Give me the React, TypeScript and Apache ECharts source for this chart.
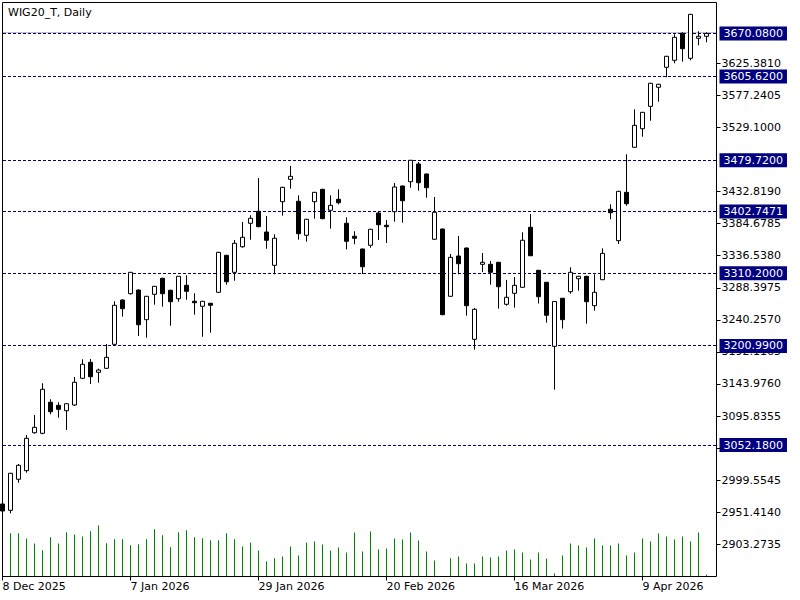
import React, { useEffect, useRef } from "react";
import * as echarts from "echarts";

const dates = [
  "8 Dec 2025", "9 Dec 2025", "10 Dec 2025", "11 Dec 2025", "12 Dec 2025",
  "15 Dec 2025", "16 Dec 2025", "17 Dec 2025", "18 Dec 2025", "19 Dec 2025",
  "22 Dec 2025", "23 Dec 2025", "29 Dec 2025", "30 Dec 2025", "2 Jan 2026",
  "5 Jan 2026", "7 Jan 2026", "8 Jan 2026", "9 Jan 2026", "12 Jan 2026",
  "13 Jan 2026", "14 Jan 2026", "15 Jan 2026", "16 Jan 2026", "19 Jan 2026",
  "20 Jan 2026", "21 Jan 2026", "22 Jan 2026", "23 Jan 2026", "26 Jan 2026",
  "27 Jan 2026", "28 Jan 2026", "29 Jan 2026", "30 Jan 2026", "2 Feb 2026",
  "3 Feb 2026", "4 Feb 2026", "5 Feb 2026", "6 Feb 2026", "9 Feb 2026",
  "10 Feb 2026", "11 Feb 2026", "12 Feb 2026", "13 Feb 2026", "16 Feb 2026",
  "17 Feb 2026", "18 Feb 2026", "19 Feb 2026", "20 Feb 2026", "23 Feb 2026",
  "24 Feb 2026", "25 Feb 2026", "26 Feb 2026", "27 Feb 2026", "2 Mar 2026",
  "3 Mar 2026", "4 Mar 2026", "5 Mar 2026", "6 Mar 2026", "9 Mar 2026",
  "10 Mar 2026", "11 Mar 2026", "12 Mar 2026", "13 Mar 2026", "16 Mar 2026",
  "17 Mar 2026", "18 Mar 2026", "19 Mar 2026", "20 Mar 2026", "23 Mar 2026",
  "24 Mar 2026", "25 Mar 2026", "26 Mar 2026", "27 Mar 2026", "30 Mar 2026",
  "31 Mar 2026", "1 Apr 2026", "2 Apr 2026", "7 Apr 2026", "8 Apr 2026",
  "9 Apr 2026", "10 Apr 2026", "13 Apr 2026", "14 Apr 2026", "15 Apr 2026",
  "16 Apr 2026", "17 Apr 2026", "20 Apr 2026", "21 Apr 2026",
];

const labelDates = ["8 Dec 2025", "7 Jan 2026", "29 Jan 2026", "20 Feb 2026", "16 Mar 2026", "9 Apr 2026"];

const opens = [
  2963.8, 2954.3, 3000.9, 3013.8, 3070.8, 3069.9, 3116.5, 3111.9, 3103.8, 3112.4,
  3152.5, 3176.5, 3161.5, 3167.5, 3203.5, 3270.0, 3279.5, 3285.0, 3240.5, 3278.6,
  3302.6, 3284.6, 3272.0, 3292.1, 3268.1, 3260.6, 3265.1, 3281.6, 3337.1, 3311.6,
  3350.0, 3385.2, 3403.2, 3372.1, 3322.1, 3417.6, 3451.2, 3418.2, 3367.2, 3417.6,
  3436.2, 3404.7, 3421.2, 3385.2, 3365.7, 3346.6, 3352.2, 3400.6, 3382.2, 3402.6,
  3441.2, 3447.6, 3474.2, 3459.2, 3361.2, 3376.6, 3275.6, 3336.1, 3348.1, 3211.0,
  3323.6, 3323.6, 3326.6, 3263.6, 3280.1, 3289.1, 3379.2, 3314.6, 3296.6, 3200.5,
  3272.6, 3282.5, 3302.0, 3305.6, 3261.5, 3300.5, 3406.2, 3359.1, 3431.7, 3499.3,
  3527.2, 3560.8, 3589.4, 3619.4, 3629.9, 3670.4, 3632.9, 3662.9, 3665.9,
];
const closes = [
  2953.3, 3009.9, 3021.9, 3062.4, 3078.9, 3136.0, 3102.3, 3105.9, 3114.3, 3146.5,
  3173.5, 3154.9, 3164.9, 3184.0, 3262.1, 3257.0, 3311.6, 3232.9, 3275.6, 3290.6,
  3279.5, 3267.5, 3305.6, 3283.1, 3266.0, 3268.1, 3262.1, 3341.6, 3297.5, 3355.2,
  3364.2, 3392.7, 3380.1, 3359.7, 3362.7, 3439.2, 3455.7, 3369.6, 3391.2, 3431.7,
  3392.1, 3412.2, 3416.1, 3358.2, 3362.7, 3320.0, 3376.2, 3383.1, 3380.1, 3439.7,
  3419.1, 3479.8, 3446.1, 3438.6, 3401.7, 3248.0, 3334.1, 3324.5, 3261.5, 3256.1,
  3326.6, 3311.6, 3290.0, 3274.1, 3292.1, 3359.7, 3336.5, 3275.0, 3247.1, 3267.8,
  3240.5, 3311.6, 3305.6, 3267.5, 3281.6, 3340.1, 3401.1, 3433.2, 3414.6, 3532.3,
  3551.8, 3595.4, 3593.9, 3635.9, 3664.4, 3647.3, 3698.9, 3665.9, 3670.1,
];
const lows = [
  2950.3, 2949.8, 2995.7, 3010.8, 3069.3, 3068.5, 3098.4, 3093.3, 3074.9, 3110.9,
  3151.5, 3143.9, 3145.9, 3166.5, 3202.0, 3245.0, 3278.0, 3216.0, 3213.4, 3263.0,
  3260.0, 3231.4, 3267.5, 3270.5, 3248.0, 3214.9, 3220.9, 3280.8, 3293.0, 3299.0,
  3348.5, 3360.6, 3379.4, 3347.0, 3308.6, 3396.6, 3437.1, 3360.6, 3357.6, 3392.1,
  3391.5, 3377.1, 3413.7, 3346.1, 3353.7, 3309.1, 3348.5, 3360.1, 3355.6, 3387.6,
  3386.1, 3438.6, 3434.1, 3423.6, 3360.5, 3247.3, 3275.0, 3308.6, 3246.5, 3195.4,
  3312.1, 3293.0, 3257.0, 3261.5, 3258.5, 3288.5, 3335.9, 3264.8, 3236.0, 3135.4,
  3227.2, 3279.5, 3284.0, 3234.5, 3254.0, 3299.9, 3391.2, 3354.1, 3411.6, 3498.7,
  3515.2, 3539.2, 3567.7, 3604.4, 3625.4, 3627.8, 3629.9, 3652.4, 3656.9,
];
const highs = [
  2966.8, 3010.4, 3023.8, 3067.4, 3097.4, 3145.0, 3121.0, 3116.5, 3115.0, 3154.4,
  3181.0, 3181.5, 3166.9, 3204.0, 3268.1, 3271.0, 3312.0, 3286.0, 3276.0, 3291.0,
  3303.5, 3285.5, 3306.0, 3307.1, 3280.1, 3268.6, 3265.6, 3342.3, 3337.8, 3360.1,
  3387.1, 3397.2, 3453.2, 3396.1, 3368.7, 3440.0, 3471.2, 3427.2, 3391.8, 3432.3,
  3436.8, 3427.2, 3436.2, 3394.2, 3373.2, 3347.2, 3376.8, 3402.1, 3390.1, 3445.7,
  3441.8, 3480.3, 3477.2, 3459.8, 3424.7, 3377.2, 3339.1, 3366.1, 3348.7, 3258.0,
  3340.6, 3328.6, 3327.2, 3300.1, 3304.6, 3371.7, 3399.1, 3315.2, 3297.2, 3268.3,
  3273.2, 3319.1, 3306.2, 3306.2, 3308.6, 3347.6, 3413.7, 3433.8, 3488.8, 3556.3,
  3552.4, 3596.0, 3594.5, 3636.5, 3668.9, 3671.9, 3699.5, 3673.4, 3671.9,
];
const volumes = [
  4000, 4330, 4330, 3800, 3300, 2630, 3930, 3300, 4430, 4200,
  4000, 4530, 5100, 3330, 3730, 3730, 3130, 3230, 3730, 4730,
  4130, 2930, 4430, 4630, 3930, 3830, 3630, 3630, 4330, 3730,
  3000, 3400, 2600, 1500, 1830, 2000, 3000, 2100, 3400, 3500,
  3200, 2600, 2900, 2400, 4400, 2500, 4500, 2700, 2800, 3800,
  3700, 4400, 3600, 2500, 1600, 0, 1830, 2000, 1300, 1300,
  2000, 1900, 2000, 2600, 2700, 2400, 1700, 2400, 1800, 300,
  2100, 3300, 3100, 2900, 3800, 3100, 3100, 3300, 2100, 2400,
  3800, 3500, 4300, 4000, 3700, 4000, 3500, 4400, 200,
];

const yTicks = [
  2903.2735, 2951.414, 2999.5545, 3047.695, 3095.8355, 3143.976, 3192.1165,
  3240.257, 3288.3975, 3336.538, 3384.6785, 3432.819, 3529.1,
  3577.2405, 3625.381,
];
const levels = [3670.08, 3605.62, 3479.72, 3402.7471, 3310.2, 3200.99, 3052.18];

const FONT = "DejaVu Sans";

export default function App() {
  const ref = useRef<HTMLDivElement>(null);
  useEffect(() => {
    if (!ref.current) return;
    const chart = echarts.init(ref.current, undefined, { renderer: "svg" });
    const categories = [...dates, ""];
    const candles = dates.map((_, i) => [opens[i], closes[i], lows[i], highs[i]]);
    const showLabel = (i: number) => labelDates.includes(categories[i]);
    const lastClose = closes[closes.length - 1];
    const markData: any[] = levels.map((v) => ({
      yAxis: v,
      lineStyle: { color: "transparent", width: 0 },
      label: {
        show: true,
        position: "end",
        distance: 5,
        formatter: v.toFixed(4),
        color: "#ffffff",
        backgroundColor: "#000080",
        padding: [1, 4, 1, 4],
        fontFamily: FONT,
        fontSize: 11,
        lineHeight: 12,
      },
    }));
    const baseGraphics: any[] = [
      {
        id: "frame",
        type: "rect",
        silent: true,
        z: 100,
        shape: { x: 2.5, y: 2.5, width: 714, height: 574 },
        style: { fill: "none", stroke: "#000000", lineWidth: 1 },
      },
      {
        id: "title",
        type: "text",
        left: 8,
        top: 7,
        z: 100,
        style: { text: "WIG20_T, Daily", font: `11px "${FONT}"`, fill: "#000000" },
      },
    ];
    chart.setOption({
      animation: false,
      backgroundColor: "#ffffff",
      textStyle: { fontFamily: FONT },
      grid: {
        left: 2.5,
        top: 2.5,
        width: 712,
        height: 574,
        containLabel: false,
        outerBoundsMode: "none",
      },
      xAxis: {
        type: "category",
        data: categories,
        boundaryGap: false,
        axisLine: { show: true, lineStyle: { color: "#000000", width: 1 } },
        axisTick: {
          show: true,
          length: 4,
          interval: (i: number) => showLabel(i),
          lineStyle: { color: "#000000" },
        },
        axisLabel: {
          interval: (i: number) => showLabel(i),
          align: "left",
          color: "#000000",
          fontFamily: FONT,
          fontSize: 11,
          margin: 4,
        },
        splitLine: { show: false },
      },
      yAxis: [
        {
          type: "value",
          position: "right",
          offset: 2,
          min: 2854.94,
          max: 3716.66,
          axisLine: { show: false },
          axisTick: {
            show: true,
            length: 4,
            customValues: yTicks,
            lineStyle: { color: "#000000" },
          },
          axisLabel: {
            customValues: yTicks,
            formatter: (v: number) => v.toFixed(4),
            color: "#000000",
            fontFamily: FONT,
            fontSize: 11,
            margin: 5,
          },
          splitLine: { show: false },
        },
        { type: "value", min: 0, max: 57400, show: false },
      ],
      series: [
        {
          type: "bar",
          data: volumes,
          yAxisIndex: 1,
          barWidth: 1,
          itemStyle: { color: "#008000" },
          silent: true,
        },
        {
          type: "candlestick",
          data: candles,
          barWidth: 4,
          silent: true,
          z: 3,
          itemStyle: {
            color: "#ffffff",
            color0: "#000000",
            borderColor: "#000000",
            borderColor0: "#000000",
            borderWidth: 1,
          },
          markLine: {
            silent: true,
            symbol: ["none", "none"],
            animation: false,
            z: 10,
            data: markData,
          },
        },
      ],
      graphic: baseGraphics,
    });

    // crisp horizontal level lines, positioned through the y scale
    const crisp = (v: number) => {
      const p = chart.convertToPixel({ yAxisIndex: 0 }, v) as number;
      return Math.round(p - 0.5) + 0.5;
    };
    const lineGraphics: any[] = [
      {
        id: "bid",
        type: "line",
        silent: true,
        z: 1,
        shape: { x1: 3, y1: crisp(lastClose) - 1, x2: 716, y2: crisp(lastClose) - 1 },
        style: { stroke: "#c0c0c0", lineWidth: 1 },
      },
      ...levels.map((v, i) => ({
        id: "lvl" + i,
        type: "line",
        silent: true,
        z: 2,
        shape: { x1: 3, y1: crisp(v), x2: 716, y2: crisp(v) },
        style: { stroke: "#000080", lineWidth: 1, lineDash: [3, 2] },
      })),
    ];
    chart.setOption({ graphic: [...baseGraphics, ...lineGraphics] });
    return () => chart.dispose();
  }, []);
  return (
    <div
      ref={ref}
      style={{ position: "absolute", left: 0, top: 0, width: 800, height: 600 }}
    />
  );
}
